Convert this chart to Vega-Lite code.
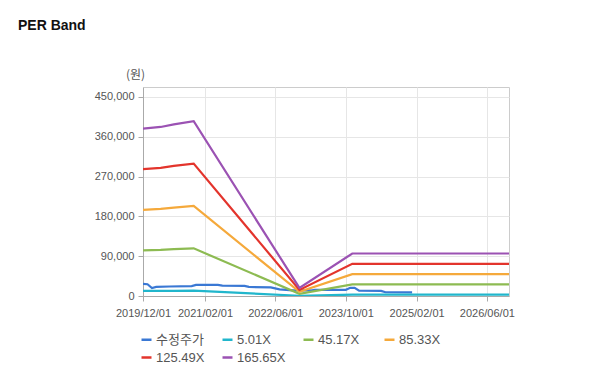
{
  "$schema": "https://vega.github.io/schema/vega-lite/v6.json",
  "autosize": {"type": "none"},
  "width": 366,
  "height": 209,
  "padding": {"top": 87, "left": 143, "right": 100, "bottom": 96},
  "background": "#ffffff",
  "title": {
    "text": "PER Band",
    "anchor": "start",
    "frame": "group",
    "dx": -125,
    "dy": -35,
    "offset": 0,
    "font": "Liberation Sans",
    "fontSize": 14,
    "fontWeight": "bold",
    "color": "#111111"
  },
  "data": {
    "values": [
      {"date": "2019-12-01", "series": "수정주가", "value": 27500},
      {"date": "2020-01-01", "series": "수정주가", "value": 26500},
      {"date": "2020-02-01", "series": "수정주가", "value": 18000},
      {"date": "2020-03-01", "series": "수정주가", "value": 20500},
      {"date": "2020-06-01", "series": "수정주가", "value": 21500},
      {"date": "2020-11-01", "series": "수정주가", "value": 22500},
      {"date": "2020-12-01", "series": "수정주가", "value": 25000},
      {"date": "2021-05-01", "series": "수정주가", "value": 25000},
      {"date": "2021-06-01", "series": "수정주가", "value": 23500},
      {"date": "2021-11-01", "series": "수정주가", "value": 23000},
      {"date": "2021-12-01", "series": "수정주가", "value": 20500},
      {"date": "2022-05-01", "series": "수정주가", "value": 19500},
      {"date": "2022-07-01", "series": "수정주가", "value": 15000},
      {"date": "2022-10-01", "series": "수정주가", "value": 12500},
      {"date": "2023-02-01", "series": "수정주가", "value": 12500},
      {"date": "2023-03-01", "series": "수정주가", "value": 14000},
      {"date": "2023-10-01", "series": "수정주가", "value": 14000},
      {"date": "2023-11-01", "series": "수정주가", "value": 18500},
      {"date": "2023-12-01", "series": "수정주가", "value": 18500},
      {"date": "2024-01-01", "series": "수정주가", "value": 12000},
      {"date": "2024-06-01", "series": "수정주가", "value": 11500},
      {"date": "2024-07-01", "series": "수정주가", "value": 8500},
      {"date": "2025-01-01", "series": "수정주가", "value": 8000},

      {"date": "2019-12-01", "series": "5.01X", "value": 11443},
      {"date": "2020-04-01", "series": "5.01X", "value": 11558},
      {"date": "2020-07-01", "series": "5.01X", "value": 11738},
      {"date": "2020-11-15", "series": "5.01X", "value": 11949},
      {"date": "2022-11-15", "series": "5.01X", "value": 551},
      {"date": "2023-11-15", "series": "5.01X", "value": 2906},
      {"date": "2026-11-01", "series": "5.01X", "value": 2906},

      {"date": "2019-12-01", "series": "45.17X", "value": 103168},
      {"date": "2020-04-01", "series": "45.17X", "value": 104207},
      {"date": "2020-07-01", "series": "45.17X", "value": 105833},
      {"date": "2020-11-15", "series": "45.17X", "value": 107730},
      {"date": "2022-11-15", "series": "45.17X", "value": 4969},
      {"date": "2023-11-15", "series": "45.17X", "value": 26199},
      {"date": "2026-11-01", "series": "45.17X", "value": 26199},

      {"date": "2019-12-01", "series": "85.33X", "value": 194894},
      {"date": "2020-04-01", "series": "85.33X", "value": 196856},
      {"date": "2020-07-01", "series": "85.33X", "value": 199928},
      {"date": "2020-11-15", "series": "85.33X", "value": 203512},
      {"date": "2022-11-15", "series": "85.33X", "value": 9386},
      {"date": "2023-11-15", "series": "85.33X", "value": 49491},
      {"date": "2026-11-01", "series": "85.33X", "value": 49491},

      {"date": "2019-12-01", "series": "125.49X", "value": 286619},
      {"date": "2020-04-01", "series": "125.49X", "value": 289505},
      {"date": "2020-07-01", "series": "125.49X", "value": 294023},
      {"date": "2020-11-15", "series": "125.49X", "value": 299294},
      {"date": "2022-11-15", "series": "125.49X", "value": 13804},
      {"date": "2023-11-15", "series": "125.49X", "value": 72784},
      {"date": "2026-11-01", "series": "125.49X", "value": 72784},

      {"date": "2019-12-01", "series": "165.65X", "value": 378345},
      {"date": "2020-04-01", "series": "165.65X", "value": 382155},
      {"date": "2020-07-01", "series": "165.65X", "value": 388118},
      {"date": "2020-11-15", "series": "165.65X", "value": 395075},
      {"date": "2022-11-15", "series": "165.65X", "value": 18222},
      {"date": "2023-11-15", "series": "165.65X", "value": 96077},
      {"date": "2026-11-01", "series": "165.65X", "value": 96077}
    ]
  },
  "mark": {"type": "line", "strokeWidth": 2.2, "clip": true},
  "encoding": {
    "x": {
      "field": "date",
      "type": "temporal",
      "scale": {
        "type": "utc",
        "nice": false,
        "domain": [
          {"year": 2019, "month": 12, "date": 1, "utc": true},
          {"year": 2026, "month": 11, "date": 1, "utc": true}
        ]
      },
      "axis": {
        "title": null,
        "format": "%Y/%m/%d",
        "values": [
          {"year": 2019, "month": 12, "date": 1, "utc": true},
          {"year": 2021, "month": 2, "date": 1, "utc": true},
          {"year": 2022, "month": 6, "date": 1, "utc": true},
          {"year": 2023, "month": 10, "date": 1, "utc": true},
          {"year": 2025, "month": 2, "date": 1, "utc": true},
          {"year": 2026, "month": 6, "date": 1, "utc": true}
        ],
        "labelOverlap": false,
        "labelFlush": false,
        "labelPadding": 6,
        "tickSize": 5
      }
    },
    "y": {
      "field": "value",
      "type": "quantitative",
      "scale": {"domain": [0, 472500], "nice": false, "zero": true},
      "axis": {
        "title": "(원)",
        "titleAngle": 0,
        "titleX": -8,
        "titleY": -13,
        "titleAlign": "center",
        "titleBaseline": "middle",
        "titleFont": "Noto Sans CJK KR",
        "titleFontSize": 12,
        "titleFontWeight": "normal",
        "titleColor": "#555555",
        "values": [0, 90000, 180000, 270000, 360000, 450000],
        "format": ",d",
        "labelPadding": 4,
        "tickSize": 5
      }
    },
    "color": {
      "field": "series",
      "type": "nominal",
      "scale": {
        "domain": ["수정주가", "5.01X", "45.17X", "85.33X", "125.49X", "165.65X"],
        "range": ["#3a78d4", "#21b6cc", "#8dbb52", "#f5a93b", "#e3342c", "#9b52b3"]
      },
      "legend": {
        "title": null,
        "orient": "none",
        "legendX": -3,
        "legendY": 246,
        "direction": "horizontal",
        "columns": 4,
        "gridAlign": "all",
        "columnPadding": 12,
        "rowPadding": 4,
        "symbolType": "stroke",
        "symbolSize": 100,
        "symbolStrokeWidth": 2.5,
        "labelOffset": 3,
        "labelFontSize": 13,
        "labelFont": "Liberation Sans, Noto Sans CJK KR",
        "labelColor": "#555555"
      }
    }
  },
  "config": {
    "view": {"stroke": "#cccccc", "strokeWidth": 1},
    "axis": {
      "labelFont": "Liberation Sans",
      "labelFontSize": 11,
      "labelColor": "#555555",
      "domainColor": "#aaaaaa",
      "tickColor": "#aaaaaa",
      "gridColor": "#e6e6e6",
      "grid": true
    }
  }
}
